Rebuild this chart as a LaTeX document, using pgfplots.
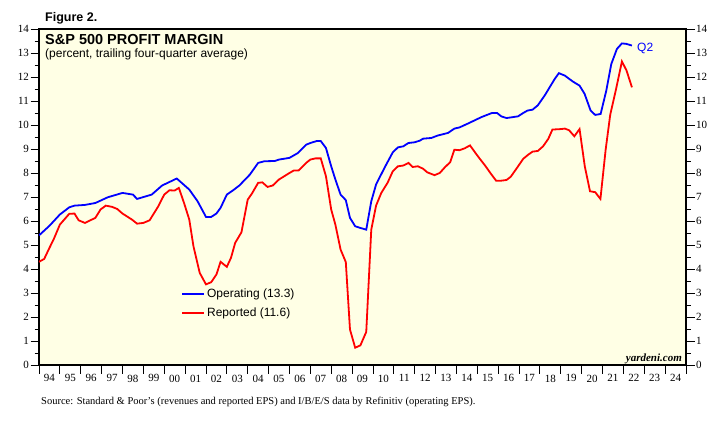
\documentclass[border=0pt]{standalone}
\usepackage{fontspec}
\setmainfont{Liberation Serif}
\newfontfamily\arial{Liberation Sans}
\usepackage{pgfplots}
\pgfplotsset{compat=1.18}
\definecolor{bgyellow}{RGB}{255,255,229}
\definecolor{opblue}{RGB}{0,0,255}
\definecolor{repred}{RGB}{255,0,0}

\pgfplotsset{
  base/.style={
    at={(39pt,64pt)}, anchor=south west,
    scale only axis, width=647pt, height=336pt,
    xmin=1994, xmax=2025, ymin=0, ymax=14,
    tick align=outside,
    major tick length=8.5pt, minor tick length=4.5pt,
    tick style={black, line width=0.8pt},
    ytick={0,...,14}, minor y tick num=1,
    tick label style={font=\fontsize{11}{12}\selectfont},
    /pgf/number format/assume math mode=true,
    yticklabel style={inner sep=1.5pt},
  }
}

\begin{document}
\begin{tikzpicture}[x=1pt,y=1pt]
\useasboundingbox (0,0) rectangle (725,429);
\begin{axis}[base,
  axis background/.style={fill=bgyellow},
  axis line style={line width=1.1pt},
  xtick={1994,...,2025},
  xticklabels={94,95,96,97,98,99,00,01,02,03,04,05,06,07,08,09,10,11,12,13,14,15,16,17,18,19,20,21,22,23,24,{}},
  xticklabel style={xshift=10.44pt, inner sep=1pt},
  xtick pos=bottom, ytick pos=left,
  legend style={draw=none, fill=none, at={(0.215,0.239)}, anchor=north west,
    font=\arial\fontsize{12}{14}\selectfont, row sep=4.6pt,
    /tikz/every even column/.append style={column sep=4pt}},
  legend cell align=left,
  legend image code/.code={\draw[#1] (0pt,0pt) -- (22pt,0pt);},
]
% operating margin
\addplot[opblue, line width=1.8pt] coordinates {
(1994.0,5.40)(1994.5,5.80)(1995.0,6.27)(1995.45,6.57)(1995.7,6.64)(1996.2,6.67)
(1996.7,6.75)(1997.3,6.99)(1998.0,7.17)(1998.5,7.10)(1998.7,6.92)(1999.4,7.10)
(1999.9,7.48)(2000.6,7.77)(2001.2,7.31)(2001.6,6.82)(2002.0,6.17)(2002.25,6.17)
(2002.5,6.31)(2002.7,6.55)(2003.0,7.10)(2003.3,7.28)(2003.6,7.48)(2004.1,7.93)
(2004.5,8.42)(2004.8,8.49)(2005.3,8.50)(2005.5,8.56)(2006.0,8.63)(2006.4,8.83)
(2006.8,9.18)(2007.0,9.25)(2007.3,9.33)(2007.5,9.33)(2007.75,9.04)(2008.0,8.28)
(2008.2,7.73)(2008.45,7.10)(2008.7,6.87)(2008.9,6.13)(2009.15,5.78)(2009.4,5.71)
(2009.68,5.64)(2009.92,6.82)(2010.15,7.52)(2010.55,8.21)(2010.95,8.86)(2011.2,9.07)
(2011.45,9.11)(2011.7,9.25)(2012.0,9.28)(2012.25,9.35)(2012.4,9.43)(2012.8,9.46)
(2013.1,9.56)(2013.6,9.67)(2013.9,9.85)(2014.15,9.90)(2014.6,10.08)(2015.2,10.33)
(2015.7,10.50)(2015.95,10.50)(2016.15,10.36)(2016.4,10.29)(2016.95,10.36)(2017.2,10.50)
(2017.4,10.60)(2017.65,10.64)(2017.9,10.82)(2018.23,11.23)(2018.71,11.92)(2018.91,12.16)
(2019.19,12.06)(2019.58,11.81)(2019.90,11.64)(2020.14,11.30)(2020.43,10.60)(2020.65,10.42)
(2020.91,10.46)(2021.18,11.43)(2021.42,12.54)(2021.69,13.17)(2021.93,13.40)(2022.14,13.38)
(2022.41,13.31)
};
\addlegendentry{Operating (13.3)}
% reported margin
\addplot[repred, line width=1.8pt] coordinates {
(1994.0,4.30)(1994.25,4.42)(1994.5,4.88)(1994.7,5.23)(1995.0,5.85)(1995.45,6.30)
(1995.7,6.31)(1995.9,6.03)(1996.2,5.92)(1996.7,6.13)(1996.95,6.48)(1997.2,6.64)
(1997.5,6.59)(1997.75,6.50)(1998.0,6.31)(1998.2,6.20)(1998.45,6.06)(1998.7,5.89)
(1999.0,5.92)(1999.3,6.03)(1999.7,6.59)(2000.0,7.10)(2000.25,7.28)(2000.5,7.27)
(2000.7,7.38)(2000.95,6.75)(2001.2,6.06)(2001.4,4.95)(2001.7,3.84)(2002.0,3.36)
(2002.25,3.45)(2002.5,3.77)(2002.7,4.30)(2003.0,4.09)(2003.2,4.47)(2003.4,5.09)
(2003.7,5.53)(2004.0,6.89)(2004.2,7.14)(2004.5,7.59)(2004.7,7.61)(2004.95,7.42)
(2005.2,7.48)(2005.5,7.73)(2006.0,8.00)(2006.2,8.10)(2006.45,8.11)(2006.8,8.42)
(2007.0,8.56)(2007.25,8.61)(2007.5,8.61)(2007.75,7.86)(2008.0,6.48)(2008.2,5.85)
(2008.45,4.81)(2008.7,4.29)(2008.9,1.48)(2009.15,0.72)(2009.4,0.82)(2009.68,1.38)
(2009.92,5.64)(2010.15,6.64)(2010.4,7.17)(2010.7,7.59)(2010.95,8.07)(2011.2,8.28)
(2011.45,8.31)(2011.7,8.42)(2011.9,8.25)(2012.15,8.28)(2012.4,8.18)(2012.6,8.03)
(2012.95,7.91)(2013.2,8.00)(2013.45,8.24)(2013.7,8.45)(2013.9,8.97)(2014.15,8.95)
(2014.4,9.03)(2014.65,9.15)(2014.95,8.79)(2015.15,8.56)(2015.4,8.28)(2015.65,7.97)
(2015.9,7.68)(2016.15,7.68)(2016.4,7.71)(2016.6,7.84)(2016.9,8.21)(2017.2,8.59)
(2017.45,8.77)(2017.65,8.89)(2017.9,8.92)(2018.15,9.11)(2018.4,9.42)(2018.6,9.81)
(2019.0,9.83)(2019.2,9.85)(2019.4,9.78)(2019.65,9.53)(2019.9,9.83)(2020.15,8.28)
(2020.4,7.24)(2020.65,7.20)(2020.9,6.92)(2021.15,8.97)(2021.37,10.43)(2021.65,11.50)
(2021.93,12.65)(2022.15,12.27)(2022.41,11.57)
};
\addlegendentry{Reported (11.6)}
\end{axis}
% right-hand scale
\begin{axis}[base,
  axis y line*=right, axis x line=none,
  yticklabel pos=right,
]
\end{axis}
\node[anchor=base west, inner sep=0pt, font=\arial\bfseries\fontsize{12.5}{14}\selectfont] at (45,407) {Figure 2.};
\node[anchor=base west, inner sep=0pt, font=\arial\bfseries\fontsize{14.5}{16}\selectfont] at (45,384) {S\&P 500 PROFIT MARGIN};
\node[anchor=base west, inner sep=0pt, font=\arial\fontsize{12}{14}\selectfont] at (45,371) {(percent, trailing four-quarter average)};
\node[anchor=base west, inner sep=0pt, text=opblue, font=\arial\fontsize{12}{13}\selectfont] at (637,377.5) {Q2};
\node[anchor=base east, inner sep=0pt, font=\bfseries\itshape\fontsize{11}{13}\selectfont] at (682,68) {yardeni.com};
\node[anchor=base west, inner sep=0pt, font=\fontsize{10.5}{12}\selectfont] at (41,25) {Source: Standard \& Poor’s (revenues and reported EPS) and I/B/E/S data by Refinitiv (operating EPS).};
\end{tikzpicture}
\end{document}
